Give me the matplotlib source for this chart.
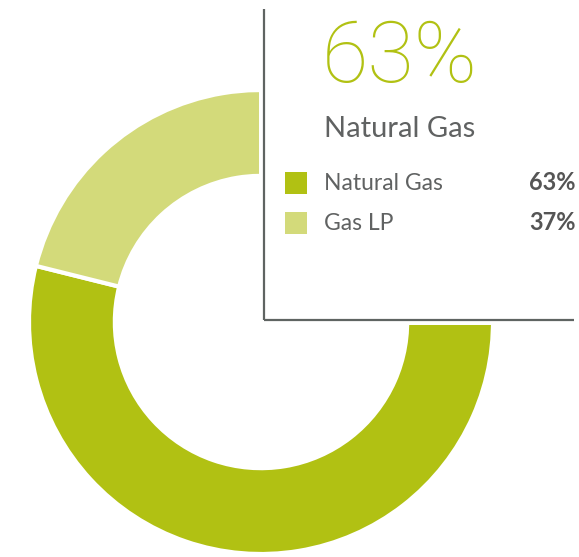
import matplotlib.pyplot as plt
from matplotlib.patches import Rectangle

# data
labels = ['Natural Gas', 'Gas LP']
shares = [63, 37]
colors = ['#b1c113', '#d3da7a']
headline = labels[0]

W, H = 579, 557
fig = plt.figure(figsize=(W / 100, H / 100), dpi=100)
ax = fig.add_axes([0, 0, 1, 1])

# donut (top-right quadrant is hidden behind the info box)
cx, cy, R = 261, H - 322, 232
ax.pie(shares, colors=colors, startangle=166, counterclock=True,
       center=(cx, cy), radius=R, frame=True,
       wedgeprops=dict(width=R * 0.37, edgecolor='white', linewidth=3))
ax.set_xlim(0, W)
ax.set_ylim(0, H)
ax.set_aspect('equal')
ax.axis('off')

# white box over top-right quadrant
ax.add_patch(Rectangle((259, H - 325), W, 400, facecolor='white',
                       edgecolor='none', zorder=5))

# frame lines
line_kw = dict(color='#5f6462', linewidth=1.6, zorder=6, solid_capstyle='butt')
ax.plot([263.5, 263.5], [H - 9, H - 320], **line_kw)
ax.plot([263.5, 574], [H - 320, H - 320], **line_kw)

font = 'Lato'
ax.text(322, H - 82, f'{shares[0]}%', fontsize=61, color=colors[0],
        fontfamily='Roboto', fontweight='light', zorder=7)
ax.text(324, H - 137, headline, fontsize=21, color='#606262',
        fontfamily=font, fontweight='normal', zorder=7)

# legend
for i, (lab, val, col) in enumerate(zip(labels, shares, colors)):
    y = H - 183 - i * 40
    ax.add_patch(Rectangle((285, y - 11), 22, 22, facecolor=col,
                           edgecolor='none', zorder=7))
    ax.text(324, y, lab, fontsize=16.5, color='#606262', fontfamily=font,
            fontweight='normal', va='center', zorder=7)
    ax.text(576, y, f'{val}%', fontsize=17, color='#555555', fontfamily=font,
            fontweight='bold', va='center', ha='right', zorder=7)

fig.savefig('out.png', dpi=100)
